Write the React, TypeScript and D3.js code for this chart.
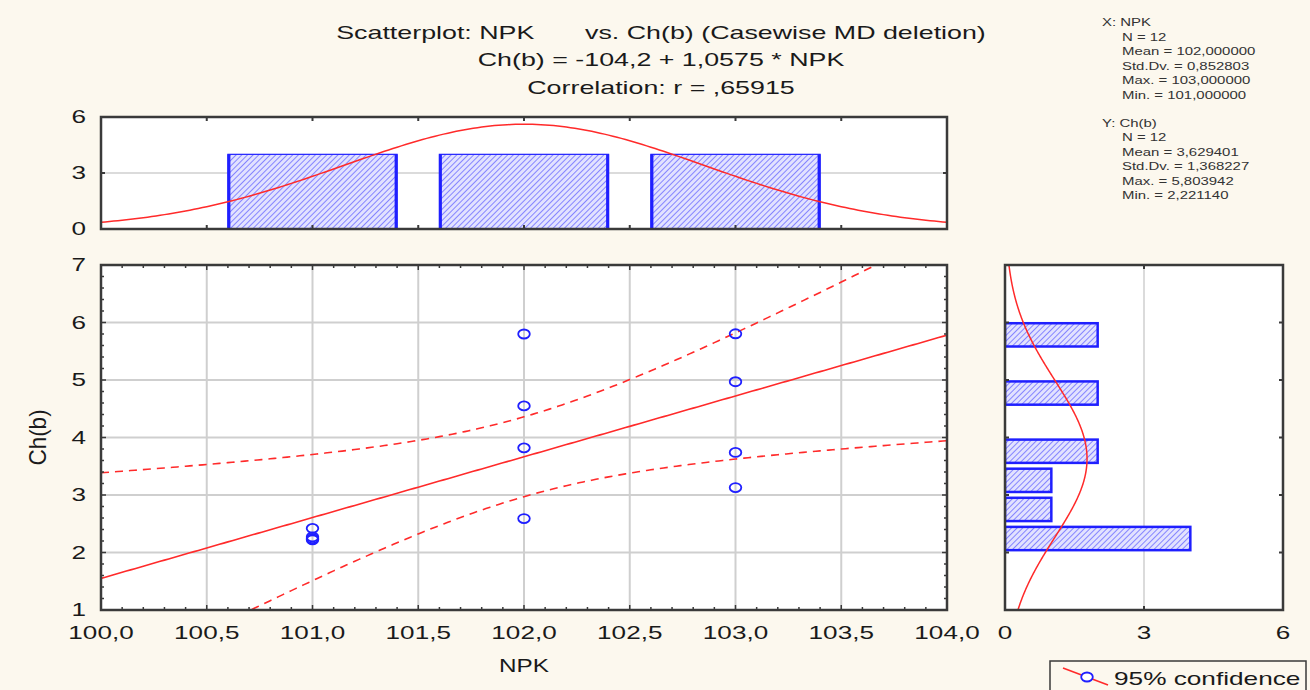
import React from "react";
import * as d3 from "d3";

// Observations: NPK dose and Ch(b)
const npk = [101, 101, 101, 101, 102, 102, 102, 102, 103, 103, 103, 103];
const chb = [2.42, 2.27, 2.24, 2.221, 5.8, 4.55, 3.82, 2.59, 5.804, 4.97, 3.74, 3.13];

// Regression and summary statistics (as printed)
const intercept = -104.2;
const slope = 1.0575;
const corr = 0.65915;
const xMean = 102.0;
const xSd = 0.852803;
const yMean = 3.629401;
const ySd = 1.368227;
const tCrit = 2.228139; // t(0.975, df = 10)

// Histogram bin edges
const npkThresholds = [100.5, 101.5, 102.5, 103.5];
const chThresholds = [1.99, 2.496, 3.002, 3.508, 4.014, 4.52, 5.026, 5.532, 6.038];

// Axis ticks
const xTicks = [100, 100.5, 101, 101.5, 102, 102.5, 103, 103.5, 104];
const yTicks = [1, 2, 3, 4, 5, 6, 7];
const histCountTicks = [0, 3, 6];

const titleLines = [
  "Ch(b) = -104,2 + 1,0575 * NPK",
  "Correlation: r = ,65915",
];
const statsX = ["X:  NPK", "N = 12", "Mean = 102,000000", "Std.Dv. = 0,852803", "Max. = 103,000000", "Min. = 101,000000"];
const statsY = ["Y:  Ch(b)", "N = 12", "Mean = 3,629401", "Std.Dv. = 1,368227", "Max. = 5,803942", "Min. = 2,221140"];

const FONT = "'Liberation Sans', Arial, sans-serif";
const BG = "#fcf8ee";
const FRAME = "#3a3a3a";
const GRID = "#cfcfcf";
const RED = "#ff2a2a";
const BLUE = "#1f1fff";
const INK = "#1a1a1a";
const SX = 1.45; // horizontal stretch of the lettering

const fmt1 = (v: number) => v.toFixed(1).replace(".", ",");
const normPdf = (x: number, m: number, s: number) =>
  Math.exp(-0.5 * ((x - m) / s) ** 2) / (s * Math.sqrt(2 * Math.PI));

type TProps = {
  x: number; y: number; size: number; anchor?: "start" | "middle" | "end";
  sx?: number; fill?: string; dy?: string; children: React.ReactNode;
};
function T({ x, y, size, anchor = "start", sx = SX, fill = INK, dy = "0.36em", children }: TProps) {
  return (
    <text transform={`translate(${x},${y}) scale(${sx},1)`} dy={dy} fontSize={size} textAnchor={anchor} fill={fill}>
      {children}
    </text>
  );
}

export default function App() {
  const W = 1310, H = 690;
  // main scatter
  const x = d3.scaleLinear().domain([100, 104]).range([101, 947]);
  const y = d3.scaleLinear().domain([1, 7]).range([610, 265]);
  // top histogram
  const yTop = d3.scaleLinear().domain([0, 6]).range([229, 117]);
  // right histogram
  const xRight = d3.scaleLinear().domain([0, 6]).range([1005, 1283]);

  const n = npk.length;

  // bins
  const npkBins = d3.bin<number, number>().domain([100.5, 103.5]).thresholds(npkThresholds)(npk);
  const chBins = d3.bin<number, number>().domain([chThresholds[0], chThresholds[chThresholds.length - 1]]).thresholds(chThresholds)(chb);

  // regression line and 95% band
  const sxx = (n - 1) * xSd * xSd;
  const s = Math.sqrt(ySd * ySd * (1 - corr * corr) * (n - 1) / (n - 2));
  const xs = d3.range(100, 104.0001, 0.02);
  const fit = (v: number) => intercept + slope * v;
  const half = (v: number) => tCrit * s * Math.sqrt(1 / n + (v - xMean) ** 2 / sxx);
  const line = d3.line<[number, number]>().x((d) => x(d[0])).y((d) => y(d[1]));
  const fitPath = line(xs.map((v) => [v, fit(v)]));
  const upPath = line(xs.map((v) => [v, fit(v) + half(v)]));
  const loPath = line(xs.map((v) => [v, fit(v) - half(v)]));

  // normal curves
  const topBinW = 1;
  const topCurve = d3.line<number>()
    .x((v) => x(v))
    .y((v) => yTop(n * topBinW * normPdf(v, xMean, xSd)))(d3.range(100, 104.0001, 0.02));
  const rightBinW = chThresholds[1] - chThresholds[0];
  const rightCurve = d3.line<number>()
    .x((v) => xRight(n * rightBinW * normPdf(v, yMean, ySd)))
    .y((v) => y(v))(d3.range(1, 7.0001, 0.02));

  const xMinor = d3.range(100, 104.0001, 0.1);
  const yMinor = d3.range(1, 7.0001, 0.2);

  const barFrac = 0.8;

  return (
    <svg width={W} height={H} style={{ display: "block", position: "absolute", left: 0, top: 0 }} fontFamily={FONT}>
      <defs>
        <pattern id="hatch" patternUnits="userSpaceOnUse" width={4} height={4} patternTransform="rotate(45)">
          <rect width={4} height={4} fill="#e2e2ff" />
          <line x1={0} y1={0} x2={0} y2={4} stroke="#7a7aff" strokeWidth={1.8} />
        </pattern>
        <clipPath id="mainClip">
          <rect x={101} y={265} width={846} height={345} />
        </clipPath>
        <clipPath id="topClip">
          <rect x={101} y={117} width={846} height={112} />
        </clipPath>
        <clipPath id="rightClip">
          <rect x={1005} y={265} width={278} height={345} />
        </clipPath>
      </defs>
      <rect width={W} height={H} fill={BG} />

      {/* titles */}
      <T x={661} y={33} size={18} anchor="middle" sx={1.49}>
        <tspan>Scatterplot: NPK</tspan>
        <tspan dx={34}>vs. Ch(b) (Casewise MD deletion)</tspan>
      </T>
      {titleLines.map((t, i) => (
        <T key={t} x={661} y={60 + i * 28} size={18} anchor="middle" sx={1.49}>{t}</T>
      ))}

      {/* descriptive statistics */}
      {[statsX, statsY].map((block, b) =>
        block.map((t, i) => (
          <T key={`${b}-${i}`} x={i === 0 ? 1102 : 1122} y={22 + b * 100.5 + i * 14.5} size={11.5} sx={1.3} fill="#333">{t}</T>
        ))
      )}

      {/* top histogram */}
      <rect x={101} y={117} width={846} height={112} fill="#fff" />
      <line x1={101} x2={947} y1={yTop(3)} y2={yTop(3)} stroke={GRID} strokeWidth={1.5} />
      <g clipPath="url(#topClip)">
        {npkBins.map((b, i) => {
          const w = (b.x1! - b.x0!) * barFrac;
          const cx = (b.x0! + b.x1!) / 2;
          const l = x(cx - w / 2), r = x(cx + w / 2);
          return (
            <g key={i}>
              <rect x={l} y={yTop(b.length)} width={r - l} height={yTop(0) - yTop(b.length)} fill="url(#hatch)" stroke={BLUE} strokeWidth={1.2} />
              <line x1={l + 1} x2={l + 1} y1={yTop(b.length)} y2={yTop(0)} stroke={BLUE} strokeWidth={3} />
              <line x1={r - 1} x2={r - 1} y1={yTop(b.length)} y2={yTop(0)} stroke={BLUE} strokeWidth={3} />
            </g>
          );
        })}
        <path d={topCurve!} fill="none" stroke={RED} strokeWidth={1.5} />
      </g>
      {xTicks.map((t) => (
        <g key={t}>
          <line x1={x(t)} x2={x(t)} y1={117} y2={121} stroke={FRAME} strokeWidth={2} />
          <line x1={x(t)} x2={x(t)} y1={229} y2={225} stroke={FRAME} strokeWidth={2} />
        </g>
      ))}
      {histCountTicks.map((t) => (
        <g key={t}>
          <line x1={101} x2={105} y1={yTop(t)} y2={yTop(t)} stroke={FRAME} strokeWidth={2} />
          <line x1={947} x2={943} y1={yTop(t)} y2={yTop(t)} stroke={FRAME} strokeWidth={2} />
          <T x={86} y={yTop(t)} size={18} anchor="end">{t}</T>
        </g>
      ))}
      <rect x={101} y={117} width={846} height={112} fill="none" stroke={FRAME} strokeWidth={2.5} />

      {/* main scatterplot */}
      <rect x={101} y={265} width={846} height={345} fill="#fff" />
      {xTicks.slice(1, -1).map((t) => (
        <line key={t} x1={x(t)} x2={x(t)} y1={265} y2={610} stroke={GRID} strokeWidth={2} />
      ))}
      {yTicks.slice(1, -1).map((t) => (
        <line key={t} x1={101} x2={947} y1={y(t)} y2={y(t)} stroke={GRID} strokeWidth={2} />
      ))}
      <g clipPath="url(#mainClip)">
        <path d={fitPath!} fill="none" stroke={RED} strokeWidth={1.6} />
        <path d={upPath!} fill="none" stroke={RED} strokeWidth={1.6} strokeDasharray="8 6" />
        <path d={loPath!} fill="none" stroke={RED} strokeWidth={1.6} strokeDasharray="8 6" />
        {npk.map((v, i) => (
          <ellipse key={i} cx={x(v)} cy={y(chb[i])} rx={5.8} ry={4.5} fill="none" stroke={BLUE} strokeWidth={1.8} />
        ))}
      </g>
      {xMinor.map((t, i) => {
        const major = i % 5 === 0;
        const len = major ? 5 : 3;
        return (
          <g key={i}>
            <line x1={x(t)} x2={x(t)} y1={610} y2={610 - len} stroke={FRAME} strokeWidth={1.5} />
            <line x1={x(t)} x2={x(t)} y1={265} y2={265 + len} stroke={FRAME} strokeWidth={1.5} />
          </g>
        );
      })}
      {yMinor.map((t, i) => {
        const major = i % 5 === 0;
        const len = major ? 5 : 3;
        return (
          <g key={i}>
            <line x1={101} x2={101 + len} y1={y(t)} y2={y(t)} stroke={FRAME} strokeWidth={1.5} />
            <line x1={947} x2={947 - len} y1={y(t)} y2={y(t)} stroke={FRAME} strokeWidth={1.5} />
          </g>
        );
      })}
      <rect x={101} y={265} width={846} height={345} fill="none" stroke={FRAME} strokeWidth={2.5} />
      {xTicks.map((t) => (
        <T key={t} x={x(t)} y={633} size={18} anchor="middle">{fmt1(t)}</T>
      ))}
      {yTicks.map((t) => (
        <T key={t} x={86} y={y(t)} size={18} anchor="end">{t}</T>
      ))}
      <T x={524} y={666} size={18} anchor="middle" sx={1.35}>NPK</T>
      <text transform={`translate(38,${y(4)}) rotate(-90) scale(1.25,1.3)`} dy="0.36em" fontSize={18} textAnchor="middle" fill={INK}>Ch(b)</text>

      {/* right histogram */}
      <rect x={1005} y={265} width={278} height={345} fill="#fff" />
      <line x1={xRight(3)} x2={xRight(3)} y1={265} y2={610} stroke={GRID} strokeWidth={1.5} />
      <g clipPath="url(#rightClip)">
        {chBins.filter((b) => b.length > 0).map((b, i) => {
          const h = (b.x1! - b.x0!) * barFrac;
          const cy = (b.x0! + b.x1!) / 2;
          const top = y(cy + h / 2), bot = y(cy - h / 2);
          return (
            <rect key={i} x={xRight(0)} y={top} width={xRight(b.length) - xRight(0)} height={bot - top}
              fill="url(#hatch)" stroke={BLUE} strokeWidth={2.5} />
          );
        })}
        <path d={rightCurve!} fill="none" stroke={RED} strokeWidth={1.5} />
      </g>
      {yTicks.map((t) => (
        <g key={t}>
          <line x1={1005} x2={1009} y1={y(t)} y2={y(t)} stroke={FRAME} strokeWidth={2} />
          <line x1={1283} x2={1279} y1={y(t)} y2={y(t)} stroke={FRAME} strokeWidth={2} />
        </g>
      ))}
      {histCountTicks.map((t) => (
        <g key={t}>
          <line x1={xRight(t)} x2={xRight(t)} y1={610} y2={606} stroke={FRAME} strokeWidth={2} />
          <line x1={xRight(t)} x2={xRight(t)} y1={265} y2={269} stroke={FRAME} strokeWidth={2} />
          <T x={xRight(t)} y={633} size={18} anchor="middle">{t}</T>
        </g>
      ))}
      <rect x={1005} y={265} width={278} height={345} fill="none" stroke={FRAME} strokeWidth={2.5} />

      {/* legend */}
      <rect x={1050} y={661} width={256} height={40} fill="none" stroke={FRAME} strokeWidth={1.5} />
      <line x1={1063} x2={1108} y1={668} y2={685} stroke={RED} strokeWidth={1.6} />
      <ellipse cx={1087} cy={677} rx={5.8} ry={4.5} fill="#fff" stroke={BLUE} strokeWidth={1.8} />
      <T x={1114} y={678} size={19} sx={1.38}>95% confidence</T>
    </svg>
  );
}
